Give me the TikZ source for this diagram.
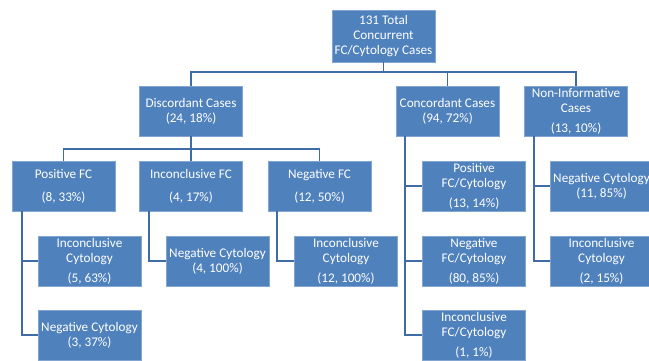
\documentclass[tikz,border=0pt]{standalone}
\usepackage{fontspec}
\setmainfont{Carlito}
\usepackage{tikz}
\usetikzlibrary{calc}

\definecolor{boxblue}{RGB}{79,129,189}
\definecolor{boxedge}{RGB}{130,165,210}
\definecolor{linkblue}{RGB}{64,108,166}

\begin{document}
\begin{tikzpicture}[x=1pt, y=-1pt,
  box/.style={fill=boxblue, draw=boxedge, line width=0.6pt, text=white, align=center,
    minimum width=103pt, minimum height=50pt, inner sep=0pt, font=\fontsize{13.2}{15}\selectfont},
  link/.style={linkblue, line width=1.6pt}]
  \useasboundingbox (0,0) rectangle (649,361);
  \node[box, minimum height=52pt] (total) at (383.5,36) {131 Total\\Concurrent\\FC/Cytology Cases};
  \node[box] (disc) at (191,111) {Discordant Cases\\(24, 18\%)};
  \node[box] (conc) at (447.5,111) {Concordant Cases\\(94, 72\%)};
  \node[box] (noninf) at (576,111) {Non-Informative\\Cases\\[5pt](13, 10\%)};
  \node[box] (posfc) at (63.5,186) {Positive FC\\[8pt](8, 33\%)};
  \node[box] (incfc) at (191,186) {Inconclusive FC\\[8pt](4, 17\%)};
  \node[box] (negfc) at (319.5,186) {Negative FC\\[8pt](12, 50\%)};
  \node[box] (posinc) at (89.5,261) {Inconclusive\\Cytology\\[5pt](5, 63\%)};
  \node[box] (posneg) at (89.5,335) {Negative Cytology\\(3, 37\%)};
  \node[box] (incneg) at (217.5,261) {Negative Cytology\\(4, 100\%)};
  \node[box] (neginc) at (346,261) {Inconclusive\\Cytology\\[5pt](12, 100\%)};
  \node[box] (concpos) at (474,186) {Positive\\FC/Cytology\\[5pt](13, 14\%)};
  \node[box] (concneg) at (474,261) {Negative\\FC/Cytology\\[5pt](80, 85\%)};
  \node[box] (concinc) at (474,335) {Inconclusive\\FC/Cytology\\[5pt](1, 1\%)};
  \node[box] (nineg) at (601.5,186) {Negative Cytology\\(11, 85\%)};
  \node[box] (niinc) at (601.5,261) {Inconclusive\\Cytology\\[5pt](2, 15\%)};
  % top level
  \draw[link] (total.south) -- ++(0,10) coordinate (hubtop);
  \draw[link] (hubtop) -| (disc.north);
  \draw[link] (hubtop) -| (conc.north);
  \draw[link] (hubtop) -| (noninf.north);
  % discordant
  \draw[link] (disc.south) -- ++(0,13) coordinate (hubdisc);
  \draw[link] (hubdisc) -| (posfc.north);
  \draw[link] (hubdisc) -- (incfc.north);
  \draw[link] (hubdisc) -| (negfc.north);
  % side branches
  \draw[link] ($(posfc.south west)+(10,0)$) |- (posinc.west);
  \draw[link] ($(posfc.south west)+(10,0)$) |- (posneg.west);
  \draw[link] ($(incfc.south west)+(10,0)$) |- (incneg.west);
  \draw[link] ($(negfc.south west)+(9,0)$) |- (neginc.west);
  \draw[link] ($(conc.south west)+(9,0)$) |- (concpos.west);
  \draw[link] ($(conc.south west)+(9,0)$) |- (concneg.west);
  \draw[link] ($(conc.south west)+(9,0)$) |- (concinc.west);
  \draw[link] ($(noninf.south west)+(10,0)$) |- (nineg.west);
  \draw[link] ($(noninf.south west)+(10,0)$) |- (niinc.west);
\end{tikzpicture}
\end{document}
